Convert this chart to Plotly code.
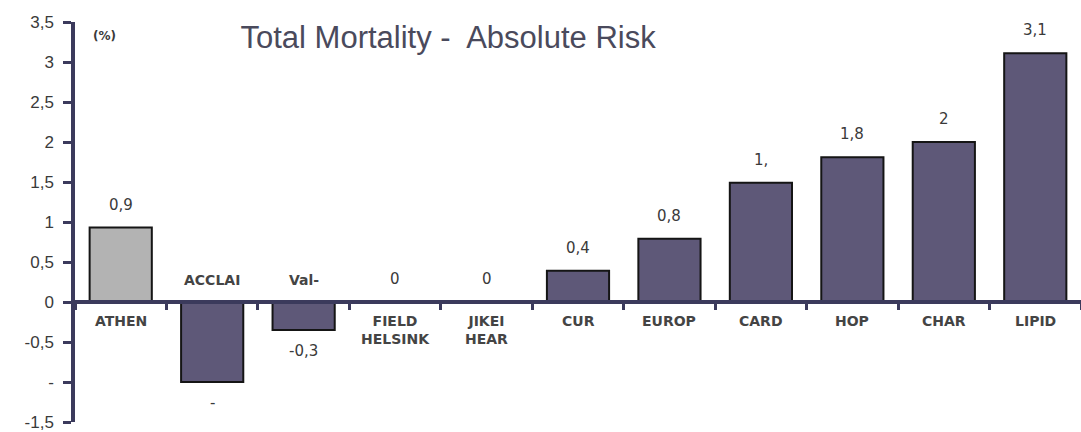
import plotly.graph_objects as go

categories = ["ATHEN", "ACCLAI", "Val-", "FIELD<br>HELSINK", "JIKEI<br>HEAR", "CUR",
              "EUROP", "CARD", "HOP", "CHAR", "LIPID"]
values = [0.93, -1.0, -0.35, 0.0, 0.0, 0.39, 0.79, 1.49, 1.81, 2.0, 3.11]
value_labels = ["0,9", "-", "-0,3", "0", "0", "0,4", "0,8", "1,", "1,8", "2", "3,1"]
ytick_vals = [3.5, 3, 2.5, 2, 1.5, 1, 0.5, 0, -0.5, -1, -1.5]
ytick_text = ["3,5", "3", "2,5", "2", "1,5", "1", "0,5", "0", "-0,5", "-", "-1,5"]
highlight = ["ATHEN"]

AXIS = "#3b3a5c"
TXT = "#3a3a3a"
PURPLE = "#5e5878"
GRAY = "#b3b3b3"

colors = [GRAY if c in highlight else PURPLE for c in categories]

fig = go.Figure(go.Bar(
    x=categories, y=values, width=0.68,
    marker=dict(color=colors, line=dict(color="#151515", width=2)),
    hoverinfo="skip",
))

LBL = dict(size=14, color="#444444", family="DejaVu Sans")
VAL = dict(size=15, color=TXT, family="DejaVu Sans")

ann = []
for c, v, lab in zip(categories, values, value_labels):
    if v >= 0:
        ann.append(dict(x=c, y=v, text=lab, showarrow=False, yanchor="bottom", yshift=12, font=VAL))
        ann.append(dict(x=c, y=0, text="<b>%s</b>" % c, showarrow=False, yanchor="top", yshift=-9,
                        font=LBL))
    else:
        ann.append(dict(x=c, y=v, text=lab, showarrow=False, yanchor="top", yshift=-10, font=VAL))
        ann.append(dict(x=c, y=0, text="<b>%s</b>" % c, showarrow=False, yanchor="bottom", yshift=12,
                        font=LBL))

ann.append(dict(xref="paper", yref="paper", x=0.029, y=0.965, text="<b>(%)</b>", showarrow=False,
                xanchor="center", yanchor="middle",
                font=dict(size=12, color=TXT, family="DejaVu Sans")))

fig.update_layout(
    width=1081, height=432,
    margin=dict(l=75, r=0, t=22, b=10),
    paper_bgcolor="white", plot_bgcolor="white",
    showlegend=False,
    title=dict(text="Total Mortality -  Absolute Risk", xref="container", yref="container",
               x=0.4145, y=0.914, xanchor="center", yanchor="middle",
               font=dict(size=31, color="#4a4a5c", family="Liberation Sans")),
    annotations=ann,
    xaxis=dict(type="category", tickson="boundaries", ticks="outside", ticklen=6, tickwidth=3,
               tickcolor=AXIS, showline=True, linecolor=AXIS, linewidth=3.5,
               showticklabels=False, showgrid=False, zeroline=False,
               anchor="free", position=0.3, range=[-0.5, 10.5]),
    yaxis=dict(range=[-1.5, 3.5], tickmode="array", tickvals=ytick_vals, ticktext=ytick_text,
               ticks="outside", ticklen=8, tickwidth=3, tickcolor=AXIS,
               showline=True, linecolor=AXIS, linewidth=3.5, showgrid=False, zeroline=False,
               tickfont=dict(size=17, color=TXT, family="Liberation Sans"), ticklabelstandoff=6),
)

fig.write_html("out.html")
